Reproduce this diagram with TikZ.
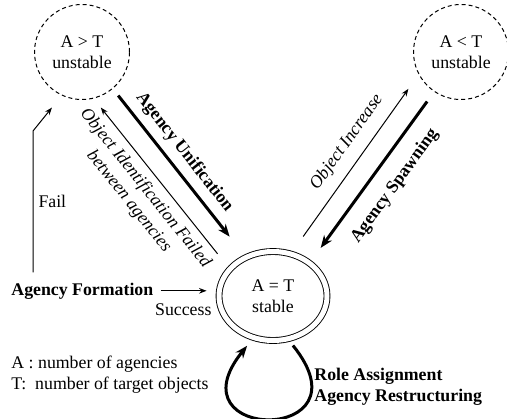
\documentclass[tikz,border=0pt]{standalone}
\usepackage{fontspec}
\setmainfont{Liberation Serif}
\usetikzlibrary{arrows.meta,calc,positioning,shapes.geometric}
\newcommand\diagfont{\fontsize{8.9}{10.5}\selectfont}
\tikzset{
>={Stealth[length=2.5pt 2.5, width=1.8pt 2]},
  state/.style={
    circle,
    draw=black, line width=0.5pt,
    dash pattern=on 2pt off 1.5pt,
    minimum size=47.5pt,
    inner sep=0pt,
    align=center,
    font=\diagfont},
  stable/.style={
    ellipse,
    draw=black, line width=0.45pt,
    double, double distance=2.5pt,
    minimum width=54pt,
    minimum height=44.5pt,
    inner sep=0pt,
    align=center,
    font=\diagfont},
  thin arrow/.style={draw, line width=0.5pt, ->},
  thick arrow/.style={draw, line width=1.5pt, ->},
  plain note/.style={font=\diagfont, inner sep=1.5pt},
  bold note/.style={font=\diagfont\bfseries, inner sep=1.5pt},
  italic note/.style={font=\diagfont\itshape, inner sep=1.5pt},
}
\begin{document}
\begin{tikzpicture}[x=0.5pt, y=-0.5pt]
    \useasboundingbox (0,0) rectangle (507,418);

    % the three states
    \node[state] (over) at (82,52) {A > T\\unstable};
    \node[state] (under) at (461,52) {A < T\\unstable};
    \node[stable] (equal) at (273,296) {A = T\\stable};

    \node[bold note, anchor=base west] (formation) at (8,295) {Agency Formation};
    \coordinate (failbend) at (33,131);

    % formation
    \draw[thin arrow, shorten >=7.75pt]
        ($(formation.north -| failbend)+(0,-7)$) --
        node[plain note, right=1pt] {Fail} (failbend) -- (over.-115);
    \draw[thin arrow, shorten <=2pt, shorten >=6pt] (formation.east) --
        node[plain note, below=4.5pt, pos=0.43] {Success} (formation.east -| equal.west);

    % unification
    \draw[thick arrow, shorten <=4.3pt, shorten >=13pt] (over.-50) --
        node[bold note, sloped, above=2pt, pos=0.44] {Agency Unification} (equal.125);
    \draw[thin arrow, <-, shorten <=5.75pt, shorten >=9.65pt] (over.-76) --
        node[italic note, sloped, below=2pt, pos=0.47, align=center]
        {Object Identification Failed\\between agencies} (equal.148);

    % spawning
    \draw[thin arrow, shorten <=10.5pt, shorten >=8.8pt] (equal.67) --
        node[italic note, sloped, above=3.8pt, pos=0.56] {Object Increase} (under.208);
    \draw[thick arrow, <-, shorten <=9.25pt, shorten >=6pt] (equal.42) --
        node[bold note, sloped, below=5.5pt, pos=0.53] {Agency Spawning} (under.-124);

    % stable loop
    \draw[thick arrow, shorten <=4pt, shorten >=5pt] (equal.-71)
        .. controls +(85,105) and +(-85,105) .. (equal.-115);
    \node[bold note, anchor=west, align=left] (roles) at (311,387)
        {Role Assignment\\Agency Restructuring};

    % legend
    \node[plain note, anchor=west, align=left] (legend) at (8,375)
        {A : number of agencies\\T:\ \ number of target objects};
\end{tikzpicture}
\end{document}
